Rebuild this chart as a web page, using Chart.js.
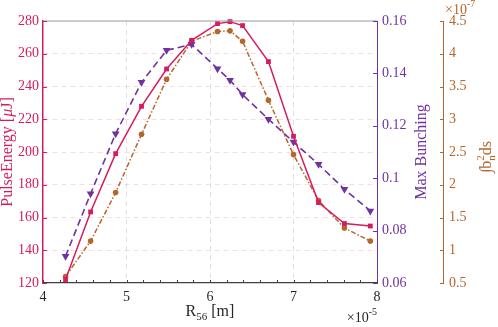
<!DOCTYPE html>
<html lang="en">
<head>
<meta charset="UTF-8">
<title>R56 scan</title>
<script src="https://cdn.jsdelivr.net/npm/chart.js"></script>
<style>
  body { margin: 0; background: #fff; }
  #wrap { width: 498px; height: 327px; }
</style>
</head>
<body>
<div id="wrap"><canvas id="chart" width="498" height="327"></canvas></div>
<script>
// R56 in units of 1e-5 m
const r56 = [4.27, 4.57, 4.87, 5.18, 5.48, 5.78, 6.09, 6.24, 6.39, 6.70, 7.00, 7.30, 7.61, 7.92];
// pulse energy in uJ
const pulseEnergy = [122.1, 163.4, 199.0, 227.9, 250.7, 268.2, 278.4, 279.6, 277.2, 255.2, 209.6, 169.1, 156.3, 154.8];
const maxBunching = [0.0702, 0.0941, 0.1170, 0.1366, 0.1488, 0.1511, 0.1418, 0.1374, 0.1319, 0.1225, 0.1138, 0.1053, 0.0958, 0.0875];
// integral of b_n^2 ds, units of 1e-7
const bunchIntegral = [0.60, 1.14, 1.88, 2.77, 3.61, 4.19, 4.34, 4.35, 4.19, 3.29, 2.46, 1.76, 1.34, 1.14];

const xTicks = [4, 5, 6, 7, 8];
const energyTicks = [120, 140, 160, 180, 200, 220, 240, 260, 280];
const bunchTicks = [0.06, 0.08, 0.1, 0.12, 0.14, 0.16];
const integralTicks = [0.5, 1, 1.5, 2, 2.5, 3, 3.5, 4, 4.5];

const RED = '#d61c5e';
const PURPLE = '#7032a0';
const BROWN = '#b4662c';
const FONT = '"Liberation Serif", "DejaVu Serif", serif';

Chart.defaults.font.family = FONT;
Chart.defaults.font.size = 14;

const pts = ys => r56.map((x, i) => ({ x: x, y: ys[i] }));
const setTicks = arr => s => { s.ticks = arr.map(v => ({ value: v })); };

// draw mixed-font text centered at (cx, cy), optionally rotated
function drawRich(ctx, parts, cx, cy, rot, align) {
    ctx.save();
    ctx.translate(cx, cy);
    if (rot) ctx.rotate(rot);
    ctx.textBaseline = 'middle';
    ctx.textAlign = 'left';
    let w = 0;
    parts.forEach(p => {
        if (p.stack) {
            p.w = Math.max(...p.stack.map(s => { ctx.font = s.font; return ctx.measureText(s.t).width; }));
        } else {
            ctx.font = p.font;
            p.w = ctx.measureText(p.t).width;
        }
        w += p.w;
    });
    let x = align === 'right' ? -w : align === 'left' ? 0 : -w / 2;
    parts.forEach(p => {
        ctx.fillStyle = p.color;
        (p.stack || [p]).forEach(s => {
            ctx.font = s.font;
            ctx.fillText(s.t, x, s.dy || 0);
        });
        x += p.w;
    });
    ctx.restore();
}

const decor = {
    id: 'decor',
    afterDraw(chart) {
        const { ctx, chartArea: a, scales } = chart;
        ctx.save();
        ctx.lineWidth = 1;
        const seg = (c, x1, y1, x2, y2) => {
            ctx.strokeStyle = c;
            ctx.beginPath(); ctx.moveTo(x1, y1); ctx.lineTo(x2, y2); ctx.stroke();
        };
        // box top
        seg('#9a9a9a', a.left, a.top, a.right, a.top);
        // inward tick marks
        for (let v = 4; v <= 8.001; v += 0.2) {
            const px = Math.round(scales.x.getPixelForValue(v)) + 0.5;
            seg('#404040', px, a.bottom, px, a.bottom - 3);
        }
        energyTicks.forEach(v => {
            const py = Math.round(scales.y.getPixelForValue(v)) + 0.5;
            seg(RED, a.left, py, a.left + 4, py);
        });
        bunchTicks.forEach(v => {
            const py = Math.round(scales.y1.getPixelForValue(v)) + 0.5;
            seg(PURPLE, a.right, py, a.right - 4, py);
        });
        integralTicks.forEach(v => {
            const py = Math.round(scales.y2.getPixelForValue(v)) + 0.5;
            seg(BROWN, scales.y2.left, py, scales.y2.left - 3, py);
        });
        ctx.restore();

        const midY = (a.top + a.bottom) / 2;
        const f16 = '16px ' + FONT, f11 = '11px ' + FONT, f14 = '14px ' + FONT, f10 = '10px ' + FONT;
        drawRich(ctx, [
            { t: 'PulseEnergy [', font: f16, color: RED },
            { t: '\u03bc', font: 'italic 16px ' + FONT, color: RED },
            { t: 'J]', font: f16, color: RED }
        ], 8, midY, -Math.PI / 2);
        drawRich(ctx, [{ t: 'Max Bunching', font: f16, color: PURPLE }],
            scales.y1.left + 45, midY, -Math.PI / 2);
        drawRich(ctx, [
            { t: '\u222bb', font: f16, color: BROWN },
            { stack: [{ t: '2', font: f11, dy: -6 }, { t: 'n', font: f11, dy: 5 }], color: BROWN },
            { t: 'ds', font: f16, color: BROWN }
        ], scales.y2.left + 44, midY + 5, -Math.PI / 2);
        drawRich(ctx, [
            { t: 'R', font: f16, color: '#262626' },
            { t: '56', font: f11, dy: 5, color: '#262626' },
            { t: ' [m]', font: f16, color: '#262626' }
        ], (a.left + a.right) / 2, 312, 0);
        drawRich(ctx, [
            { t: '\u00d710', font: f14, color: '#262626' },
            { t: '-5', font: f10, dy: -6, color: '#262626' }
        ], a.right, 318, 0, 'right');
        drawRich(ctx, [
            { t: '\u00d710', font: f14, color: BROWN },
            { t: '-7', font: f10, dy: -6, color: BROWN }
        ], scales.y2.left + 2, 10, 0, 'left');
    }
};

new Chart(document.getElementById('chart'), {
    type: 'line',
    data: {
        datasets: [
            {
                label: 'PulseEnergy',
                data: pts(pulseEnergy),
                yAxisID: 'y',
                borderColor: RED,
                backgroundColor: RED,
                borderWidth: 1.5,
                pointStyle: 'rect',
                pointRadius: 3.4,
                pointBorderWidth: 0,
                clip: false
            },
            {
                label: 'Max Bunching',
                data: pts(maxBunching),
                yAxisID: 'y1',
                borderColor: PURPLE,
                backgroundColor: PURPLE,
                borderWidth: 1.6,
                borderDash: [7, 4],
                pointStyle: 'triangle',
                pointRotation: 180,
                pointRadius: 4.5,
                pointBorderWidth: 0,
                clip: false
            },
            {
                label: 'Bunching integral',
                data: pts(bunchIntegral),
                yAxisID: 'y2',
                borderColor: BROWN,
                backgroundColor: BROWN,
                borderWidth: 1.5,
                borderDash: [5, 2, 1.5, 2],
                pointStyle: 'circle',
                pointRadius: 2.8,
                pointBorderWidth: 0,
                clip: false
            }
        ]
    },
    options: {
        responsive: false,
        animation: false,
        events: [],
        layout: { padding: { top: 21, left: 0, right: 0, bottom: 0 } },
        plugins: { legend: { display: false }, tooltip: { enabled: false } },
        elements: { line: { tension: 0 } },
        scales: {
            x: {
                type: 'linear',
                position: 'bottom',
                min: 4, max: 8,
                afterBuildTicks: setTicks(xTicks),
                afterFit: s => { s.height = 44; },
                ticks: { color: '#262626', padding: 6, maxRotation: 0 },
                grid: {
                    drawTicks: false,
                    color: c => (c.tick && (c.tick.value === 4 || c.tick.value === 8)) ? 'rgba(0,0,0,0)' : 'rgba(120,120,120,0.22)'
                },
                border: { color: '#404040', width: 1.2, dash: [5, 4] }
            },
            y: {
                position: 'left',
                min: 120, max: 280,
                afterBuildTicks: setTicks(energyTicks),
                afterFit: s => { s.width = 43; },
                ticks: { color: RED, padding: 4 },
                grid: {
                    drawTicks: false,
                    color: c => (c.tick && (c.tick.value === 120 || c.tick.value === 280)) ? 'rgba(0,0,0,0)' : 'rgba(214,28,94,0.16)'
                },
                border: { color: RED, width: 1.5, dash: [5, 4] }
            },
            y1: {
                position: 'right',
                min: 0.06, max: 0.16,
                afterBuildTicks: setTicks(bunchTicks),
                afterFit: s => { s.width = 66; },
                ticks: { color: PURPLE, padding: 5, callback: v => String(+v.toFixed(2)) },
                grid: { display: false, drawTicks: false },
                border: { color: PURPLE, width: 1 }
            },
            y2: {
                position: 'right',
                min: 0.5, max: 4.5,
                afterBuildTicks: setTicks(integralTicks),
                afterFit: s => { s.width = 55; },
                ticks: { color: BROWN, padding: 6, callback: v => String(+v.toFixed(1)) },
                grid: { display: false, drawTicks: false },
                border: { color: BROWN, width: 1 }
            }
        }
    },
    plugins: [decor]
});
</script>
</body>
</html>
